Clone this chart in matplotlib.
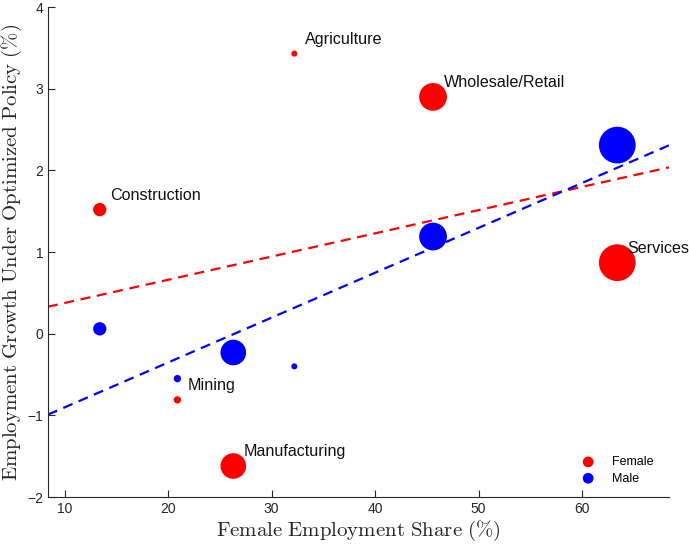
import numpy as np
import matplotlib
matplotlib.use("Agg")
import matplotlib.pyplot as plt

sectors = ["Agriculture", "Wholesale/Retail", "Construction", "Services", "Mining", "Manufacturing"]
female_share = [32.2, 45.6, 13.4, 63.4, 20.9, 26.3]
growth_female = [3.43, 2.90, 1.52, 0.87, -0.81, -1.62]
growth_male = [-0.40, 1.19, 0.06, 2.31, -0.55, -0.23]
marker_area = [19, 400, 92, 700, 28, 340]

plt.rcParams['mathtext.fontset'] = 'cm'
fig = plt.figure(figsize=(6.89, 5.45), dpi=100)
ax = fig.add_axes([0.0697, 0.088, 0.9013, 0.899])

x = np.array(female_share)
xlim = (x.min() - 5, x.max() + 5)

ax.scatter(x, growth_female, s=marker_area, color='#ff0000', edgecolors='none', zorder=3)
ax.scatter(x, growth_male, s=marker_area, color='#0000ff', edgecolors='none', zorder=3)

xx = np.array(xlim)
pf = np.polyfit(x, growth_female, 1)
pm = np.polyfit(x, growth_male, 1)
ax.plot(xx, np.polyval(pf, xx), '--', color='#ff0000', lw=1.6, dashes=(4.5, 3), zorder=2)
ax.plot(xx, np.polyval(pm, xx), '--', color='#0000ff', lw=1.6, dashes=(4.5, 3), zorder=2)

for name, xi, yi in zip(sectors, female_share, growth_female):
    ax.annotate(name, (xi, yi), xytext=(7.5, 5), textcoords='offset points',
                fontsize=11.6, family='Liberation Sans', color='#111111',
                ha='left', va='bottom')

ax.set_xlim(*xlim)
ax.set_ylim(-2, 4)
ax.set_xticks([10, 20, 30, 40, 50, 60])
ax.set_yticks([-2, -1, 0, 1, 2, 3, 4])
for s in ['top', 'right']:
    ax.spines[s].set_visible(False)
for s in ['left', 'bottom']:
    ax.spines[s].set_color('#262626')
    ax.spines[s].set_linewidth(0.8)
ax.tick_params(direction='in', length=5, width=0.8, color='#262626', labelcolor='#262626',
               labelsize=10)
for lbl in ax.get_xticklabels() + ax.get_yticklabels():
    lbl.set_family('Liberation Sans')

ax.set_xlabel(r'$\mathrm{Female\ Employment\ Share\ (\%)}$', fontsize=15, color='#262626', labelpad=2)
ax.set_ylabel(r'$\mathrm{Employment\ Growth\ Under\ Optimized\ Policy\ (\%)}$', fontsize=15, color='#262626', labelpad=2)

h1 = ax.scatter([], [], s=60, color='#ff0000', edgecolors='none')
h2 = ax.scatter([], [], s=60, color='#0000ff', edgecolors='none')
ax.legend([h1, h2], ['Female', 'Male'], loc='lower right', frameon=False,
          prop={'family': 'Liberation Sans', 'size': 9}, handletextpad=0.9,
          borderaxespad=0.6, labelspacing=0.35, bbox_to_anchor=(0.995, 0.0))

fig.savefig('out.png', dpi=100)
